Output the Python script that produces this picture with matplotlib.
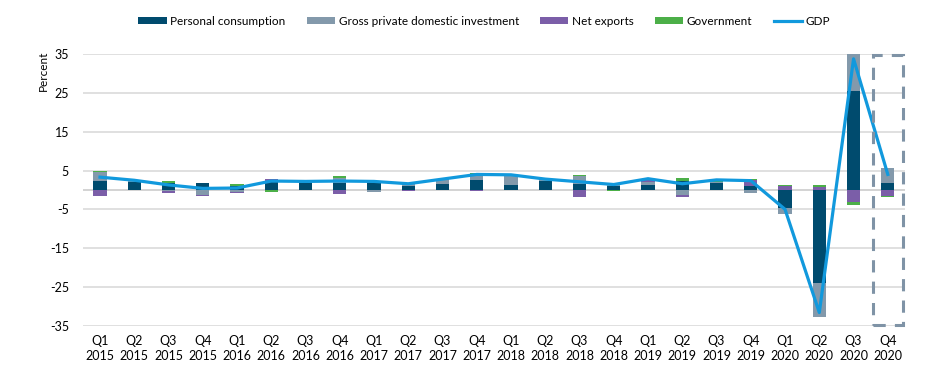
import numpy as np
import matplotlib
matplotlib.use('Agg')
import matplotlib.pyplot as plt
from matplotlib.patches import Rectangle

plt.rcParams['font.family'] = ['Lato', 'DejaVu Sans']

# data (contributions to real GDP growth, percentage points)
quarters = ['Q1', 'Q2', 'Q3', 'Q4'] * 6
years = [str(y) for y in range(2015, 2021) for _ in range(4)]
tick_labels = [f'{q}\n{y}' for q, y in zip(quarters, years)]

consumption = [2.4, 2.1, 1.9, 1.7, 1.1, 2.0, 1.9, 1.7, 1.9, 1.1, 1.5, 2.6,
               1.3, 2.2, 1.5, 1.0, 1.2, 2.4, 1.7, 1.1, -4.7, -24.0, 25.4, 1.7]
investment = [2.1, 0.2, -0.2, -1.2, -0.5, 0.3, 0.1, 1.5, -0.4, 0.4, 1.2, 1.3,
              2.5, 0.4, 2.0, 0.5, 0.9, -1.3, 0.4, -0.7, -1.6, -8.8, 9.7, 4.0]
net_exports = [-1.5, 0.0, -0.6, -0.3, -0.3, 0.4, 0.2, -1.1, 0.3, -0.2, 0.1, -0.3,
               0.0, 0.1, -1.9, -0.1, 0.4, -0.6, 0.0, 1.5, 1.1, 0.7, -3.2, -1.5]
government = [0.4, 0.2, 0.4, 0.0, 0.4, -0.5, 0.1, 0.3, 0.0, 0.1, 0.1, 0.4,
              0.1, 0.2, 0.4, -0.2, 0.3, 0.8, 0.3, 0.3, 0.2, 0.6, -0.7, -0.2]
gdp = [3.3, 2.5, 1.3, 0.4, 0.5, 2.3, 2.2, 2.3, 2.2, 1.6, 2.8, 4.0,
       3.9, 2.8, 2.1, 1.4, 2.9, 1.6, 2.6, 2.4, -5.0, -31.6, 33.8, 4.0]

series = [('Personal consumption', consumption, '#004b6e'),
          ('Gross private domestic investment', investment, '#8399ab'),
          ('Net exports', net_exports, '#7b5ea8'),
          ('Government', government, '#4caf48')]

fig = plt.figure(figsize=(9.31, 3.71), dpi=100)
ax = fig.add_axes([0.089, 0.122, 0.883, 0.732])

x = np.arange(len(tick_labels))
pos_bottom = np.zeros(len(x))
neg_bottom = np.zeros(len(x))
handles = []
for name, vals, col in series:
    vals = np.array(vals)
    bottom = np.where(vals >= 0, pos_bottom, neg_bottom)
    b = ax.bar(x, vals, 0.39, bottom=bottom, color=col, label=name, zorder=2)
    handles.append(b)
    pos_bottom += np.clip(vals, 0, None)
    neg_bottom += np.clip(vals, None, 0)

line, = ax.plot(x, gdp, color='#1199dd', lw=2.3, label='GDP', zorder=3,
                solid_joinstyle='round')
handles.append(line)

# dashed box around the latest quarter
box = Rectangle((22.56, -34.8), 0.88, 69.6, fill=False, edgecolor='#7f93a6',
                lw=2.2, ls=(0, (4, 3)), zorder=4, clip_on=False)
ax.add_patch(box)

ax.set_xlim(-0.5, 23.5)
ax.set_ylim(-35, 35)
ax.set_yticks(np.arange(-35, 36, 10))
ax.set_yticklabels([str(t) for t in np.arange(-35, 36, 10)])
ax.grid(axis='y', color='#dddddd', lw=1.3, zorder=0)
ax.axhline(0, color='#d0d0d0', lw=1.3, zorder=1)
ax.set_xticks(x)
ax.set_xticklabels(tick_labels, fontsize=9, linespacing=1.25)
ax.tick_params(axis='both', length=0, labelsize=9)
ax.tick_params(axis='y', pad=10)
ax.tick_params(axis='x', pad=7)
for s in ax.spines.values():
    s.set_visible(False)

fig.text(0.047, 0.81, 'Percent', rotation=90, ha='center', va='center', fontsize=8.5)

fig.legend(handles=handles, loc='center', bbox_to_anchor=(0.52, 0.943), ncol=5,
           frameon=False, fontsize=8.5, handlelength=2.4, handleheight=0.45,
           handletextpad=0.3, columnspacing=1.8)

fig.savefig('out.png', dpi=100)
